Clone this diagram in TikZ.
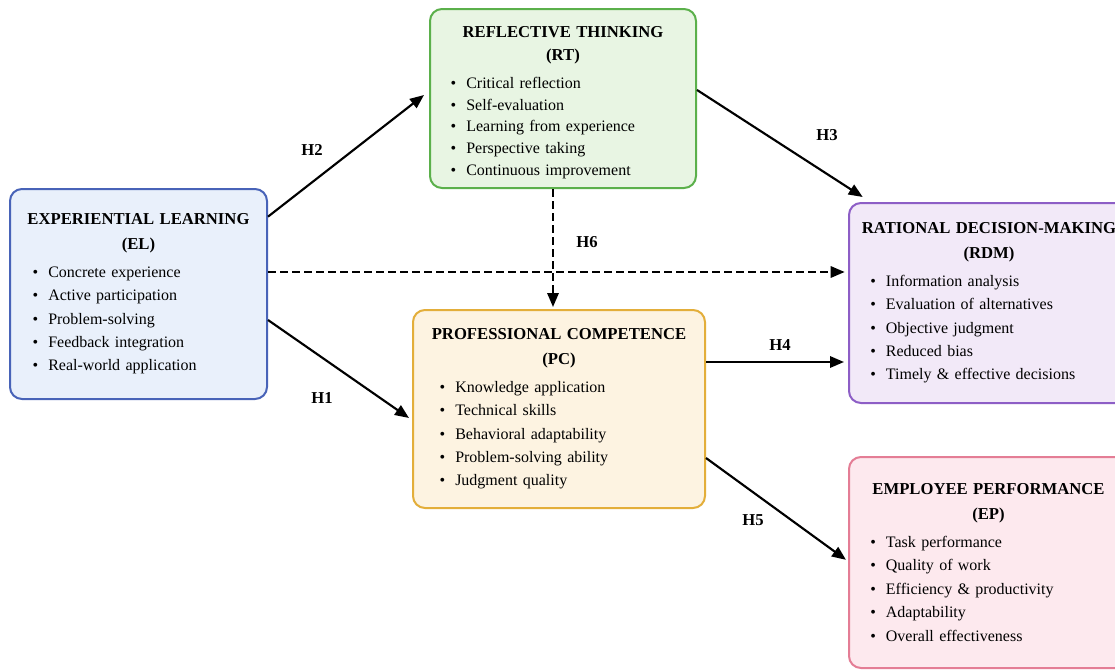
\documentclass[tikz,border=0pt]{standalone}
\usepackage{fontspec}
\setmainfont{Liberation Serif}
\usepackage{xcolor}
\usetikzlibrary{arrows.meta}

\newlength{\bulind}
\newlength{\tskip}\setlength{\tskip}{18.75pt}
\newlength{\tgap}\setlength{\tgap}{3pt}
\newcommand{\titlefont}{\fontsize{12.5}{\tskip}\selectfont\bfseries}
\newcommand{\boxtext}[3]{{\titlefont #1\\(#2)\\[\tgap]}#3}
\newcommand{\itm}[1]{\makebox[\linewidth][l]{\hspace*{\bulind}\textbullet\hspace{7.5pt}#1}}

\begin{document}
\begin{tikzpicture}[x=0.75pt,y=-0.75pt,
  box/.style={draw,rounded corners=9pt,line width=1.5pt,inner sep=0pt,align=center,
    font=\fontsize{12}{17.6}\selectfont},
  bul/.style={execute at begin node={\setlength{\bulind}{#1}}},
  tight/.style={font=\fontsize{12}{16.3}\selectfont,
    execute at begin node={\setlength{\tskip}{17.25pt}\setlength{\tgap}{4.7pt}}},
  arr/.style={line width=1.6pt,-{Triangle[length=10.5pt,width=8.5pt]}},
  hlabel/.style={font=\fontsize{12.5}{15}\selectfont\bfseries}]
\definecolor{elfill}{HTML}{E9F0FB}
\definecolor{eldraw}{HTML}{4863B8}
\definecolor{rtfill}{HTML}{E8F5E3}
\definecolor{rtdraw}{HTML}{5BB04B}
\definecolor{rdmfill}{HTML}{F2E9F8}
\definecolor{rdmdraw}{HTML}{8D5EC6}
\definecolor{pcfill}{HTML}{FDF3E1}
\definecolor{pcdraw}{HTML}{E3AE3A}
\definecolor{epfill}{HTML}{FDE9EE}
\definecolor{epdraw}{HTML}{E47D95}
\useasboundingbox[fill=white] (0,0) rectangle (1115,671);

% constructs
\node[box,fill=elfill,draw=eldraw,minimum width=192.75pt,minimum height=157.5pt,
  text width=192.75pt,bul=17pt] (el) at (138.5,294)
  {\boxtext{EXPERIENTIAL LEARNING}{EL}{\itm{Concrete experience}\\\itm{Active participation}\\
   \itm{Problem-solving}\\\itm{Feedback integration}\\\itm{Real-world application}}};
\node[box,tight,fill=rtfill,draw=rtdraw,minimum width=199.5pt,minimum height=134.25pt,
  text width=199.5pt,bul=15.5pt] (rt) at (563,98.5)
  {\boxtext{\rule{0pt}{14.5pt}REFLECTIVE THINKING}{RT}{\itm{Critical reflection}\\\itm{Self-evaluation}\\
   \itm{Learning from experience}\\\itm{Perspective taking}\\\itm{Continuous improvement}}};
\node[box,fill=rdmfill,draw=rdmdraw,minimum width=210pt,minimum height=150pt,
  text width=210pt,bul=16pt] (rdm) at (989,303)
  {\boxtext{RATIONAL DECISION-MAKING}{RDM}{\itm{Information analysis}\\\itm{Evaluation of alternatives}\\
   \itm{Objective judgment}\\\itm{Reduced bias}\\\itm{Timely \& effective decisions}}};
\node[box,fill=pcfill,draw=pcdraw,minimum width=219pt,minimum height=148.5pt,
  text width=219pt,bul=20pt] (pc) at (559,409)
  {\boxtext{PROFESSIONAL COMPETENCE}{PC}{\itm{Knowledge application}\\\itm{Technical skills}\\
   \itm{Behavioral adaptability}\\\itm{Problem-solving ability}\\\itm{Judgment quality}}};
\node[box,fill=epfill,draw=epdraw,minimum width=209.25pt,minimum height=158.25pt,
  text width=209.25pt,bul=16pt] (ep) at (988.5,562.5)
  {\boxtext{EMPLOYEE PERFORMANCE}{EP}{\itm{Task performance}\\\itm{Quality of work}\\
   \itm{Efficiency \& productivity}\\\itm{Adaptability}\\\itm{Overall effectiveness}}};

% hypotheses
\draw[arr] ([yshift=58pt]el.east) -- ([xshift=-3.75pt,yshift=2.6pt]rt.west);
\draw[arr] ([yshift=6.4pt]rt.east) -- ([xshift=11pt,yshift=3.75pt]rdm.north west);
\draw[arr] ([yshift=-19.5pt]el.east) -- ([xshift=-2.25pt,yshift=-6.75pt]pc.west);
\draw[arr] ([yshift=35.25pt]pc.east) -- ([yshift=35.25pt,xshift=-3pt]pc.east -| rdm.west);
\draw[arr] ([yshift=-36.75pt]pc.east) -- ([xshift=-1.5pt,yshift=2pt]ep.west);
\draw[arr,dash pattern=on 6pt off 3pt] ([xshift=-7.5pt]rt.south) -- ([xshift=-7.5pt,yshift=1.5pt]rt.south |- pc.north);
\draw[arr,dash pattern=on 6pt off 3pt] ([yshift=16.5pt]el.east) -- ([yshift=16.5pt,xshift=-2.5pt]el.east -| rdm.west);

\foreach \lab/\px/\py in {H1/322/398,H2/312/150,H3/827/135,H4/780/345,H5/753/520,H6/587/242}
  {\node[hlabel] (\lab) at (\px,\py) {\lab};}
\end{tikzpicture}
\end{document}
